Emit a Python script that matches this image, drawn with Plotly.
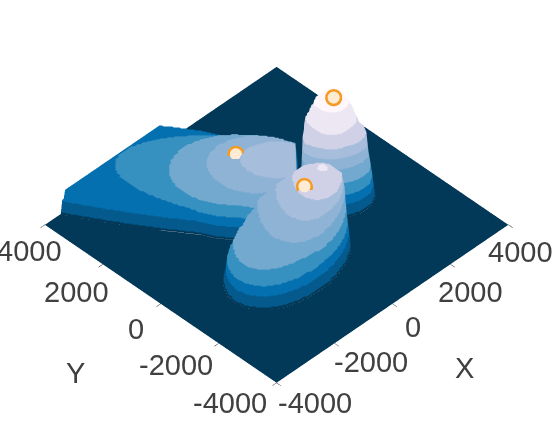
import numpy as np
import plotly.graph_objects as go

# contour rings, in data units:
# height, centre (X-Y), centre (X+Y), half width along X-Y, front and back half width along X+Y, lean
left_height = [13, 21, 23, 28, 34, 41, 48, 53, 58, 62]
left_diff = [-3391, -3391, -609, -1026, -1478, -1096, -678, -330, 17, 157]
left_sum = [408, 408, 1223, 1172, 1070, 917, 713, 561, 357, 153]
left_w = [5947, 5913, 4939, 3582, 2261, 2017, 1739, 1530, 1287, 974]
left_front = [764, 560, 2038, 1886, 1784, 1631, 1529, 1223, 917, 612]
left_back = [3516, 3465, 2038, 1886, 1784, 1580, 1376, 1121, 917, 612]
left_lean = [-0.176, -0.176, -0.147, -0.073, 0, 0, 0, 0, 0, 0]
left_cliff = 650

mid_height = [13, 21, 23, 28, 34, 41, 48, 53, 58, 63, 68, 74, 82]
mid_diff = [365, 365, 365, 400, 435, 643, 852, 991, 1130, 1269, 1409, 1513, 1582]
mid_sum = [-1987, -1987, -1987, -1886, -1580, -1274, -994, -917, -917, -917, -1004, -1070, -1274]
mid_w = [2122, 2104, 2087, 2017, 1948, 1739, 1530, 1356, 1183, 1009, 870, 522, 191]
mid_front = [2089, 1937, 1911, 2089, 2140, 2242, 2293, 2038, 1784, 1427, 1152, 612, 178]
mid_back = [2089, 2064, 1936, 1835, 1430, 1020, 815, 713, 662, 662, 662, 459, 178]
mid_lean = [0.434, 0.44, 0.44, 0.498, 0.557, 0.396, 0.245, 0.19, 0.155, 0.073, 0, 0, 0]

tower_height = [13, 21, 23, 28, 34, 41, 48, 53, 58, 63, 68, 75, 82, 93, 104, 112, 118]
tower_diff = [2104, 2104, 2104, 2087, 2069, 2052, 2035, 2035, 2017, 2000, 2000, 1965, 1896, 1896, 1896, 1930, 1965]
tower_sum = [1274, 1249, 1223, 1223, 1070, 1172, 1070, 1070, 1070, 1070, 1070, 1172, 1274, 1121, 968, 815, 662]
tower_w = [1217, 1217, 1200, 1200, 1183, 1165, 1148, 1148, 1113, 1113, 1113, 1043, 904, 765, 626, 452, 278]
tower_front = [739, 739, 713, 713, 713, 713, 713, 662, 662, 612, 612, 662, 713, 612, 561, 408, 255]
tower_back = [713, 713, 713, 713, 662, 662, 662, 612, 561, 561, 510, 510, 510, 459, 408, 357, 255]
tower_lean = [0.117] * 11 + [0] * 6

# band edges on the height scale and their colours
band_edges = [0, 2, 12, 21.5, 33, 47, 57, 67, 81, 103, 130]
band_colors = ["#023858", "#045a8d", "#0570b0", "#3690c0", "#74a9cf", "#8fb3d5", "#a6bddb", "#d0d1e6", "#ece7f2", "#fff7fb"]

# markers on the three peaks
peak_x = [-297, -337, 1135]
peak_y = [1112, -1294, -830]
peak_z = [54, 70, 120]

tick_vals = [-4000, -2000, 0, 2000, 4000]
tick_text = ["-4000", "-2000", "0", "2000", "4000"]

axis_x = np.linspace(-4000, 4000, 161)
axis_y = np.linspace(-4000, 4000, 161)
gx, gy = np.meshgrid(axis_x, axis_y)
gd = gx - gy
gs = gx + gy


def stack_rings(height, diff, total, w, front, back, lean):
    z = np.zeros_like(gx)
    for i in range(len(height)):
        t = (gd - diff[i]) / w[i]
        inside = np.abs(t) < 1
        root = np.sqrt(np.clip(1 - t ** 2, 0, 1))
        off = gs - total[i] - lean[i] * (gd - diff[i])
        inside &= (off > -front[i] * root) & (off < back[i] * root)
        z[inside] = np.maximum(z[inside], height[i])
    return z


left = stack_rings(left_height, left_diff, left_sum, left_w, left_front, left_back, left_lean)
left[gd > left_cliff] = 0
mid = stack_rings(mid_height, mid_diff, mid_sum, mid_w, mid_front, mid_back, mid_lean)
tower = stack_rings(tower_height, tower_diff, tower_sum, tower_w, tower_front, tower_back, tower_lean)
zz = np.maximum(np.maximum(left, mid), tower)

top = band_edges[-1]
scale = []
for i, c in enumerate(band_colors):
    scale.append([band_edges[i] / top, c])
    scale.append([band_edges[i + 1] / top, c])

fig = go.Figure()
fig.add_trace(go.Surface(
    x=axis_x, y=axis_y, z=zz, surfacecolor=zz,
    cmin=0, cmax=top, colorscale=scale, showscale=False,
    lighting=dict(ambient=1, diffuse=0, specular=0, roughness=1, fresnel=0),
    hoverinfo="skip",
))
fig.add_trace(go.Scatter3d(
    x=peak_x, y=peak_y, z=peak_z, mode="markers",
    marker=dict(size=10, color="#f59a23"),
    hoverinfo="skip",
))
# pale centre sits a hair nearer the camera than the orange disc
fig.add_trace(go.Scatter3d(
    x=np.array(peak_x) - 40, y=np.array(peak_y) - 40, z=np.array(peak_z) + 1.6, mode="markers",
    marker=dict(size=7, color="#fdebd3"),
    hoverinfo="skip",
))

axis_font = dict(family="Liberation Sans, Arial, sans-serif", size=29, color="#404040")

# label offsets from the tick, in pixels (same order as tick_vals)
x_label_dx = [38, 36, 20, 20, 12]
x_label_dy = [20, 19, 23, 28, 27]
y_label_dx = [-47, -43, -25, -26, -15]
y_label_dy = [20, 22, 25, 28, 26]

notes = []
for i, v in enumerate(tick_vals):
    notes.append(dict(x=v, y=-4000, z=0, text=tick_text[i], showarrow=False, font=axis_font,
                      xanchor="center", yanchor="middle", xshift=x_label_dx[i], yshift=-x_label_dy[i]))
    notes.append(dict(x=-4000, y=v, z=0, text=tick_text[i], showarrow=False, font=axis_font,
                      xanchor="center", yanchor="middle", xshift=y_label_dx[i], yshift=-y_label_dy[i]))
notes.append(dict(x=0, y=-4000, z=0, text="X", showarrow=False, font=axis_font,
                  xanchor="center", yanchor="middle", xshift=72, yshift=-64))
notes.append(dict(x=-4000, y=0, z=0, text="Y", showarrow=False, font=axis_font,
                  xanchor="center", yanchor="middle", xshift=-85, yshift=-69))


def plane_axis():
    return dict(
        title=dict(text=""), range=[-4000, 4000],
        tickvals=tick_vals, showticklabels=False, ticks="outside", ticklen=6, tickcolor="#333333",
        showgrid=False, zeroline=False, showbackground=False, showline=False, showspikes=False,
    )


fig.update_layout(
    width=552, height=423, showlegend=False,
    margin=dict(l=0, r=0, t=0, b=0),
    paper_bgcolor="white",
    scene=dict(
        xaxis=plane_axis(),
        yaxis=plane_axis(),
        zaxis=dict(visible=False, range=[0, top]),
        aspectmode="manual",
        aspectratio=dict(x=1.55, y=1.55, z=0.85),
        camera=dict(
            eye=dict(x=-0.776, y=-0.772, z=0.681),
            center=dict(x=-0.002, y=0.002, z=-0.339),
            up=dict(x=0, y=0, z=1),
            projection=dict(type="orthographic"),
        ),
        annotations=notes,
    ),
)

# the default page has a body margin that would clip the outer labels
fig.write_html("out.html", config={"displayModeBar": False},
               post_script="document.body.style.margin='0';")
